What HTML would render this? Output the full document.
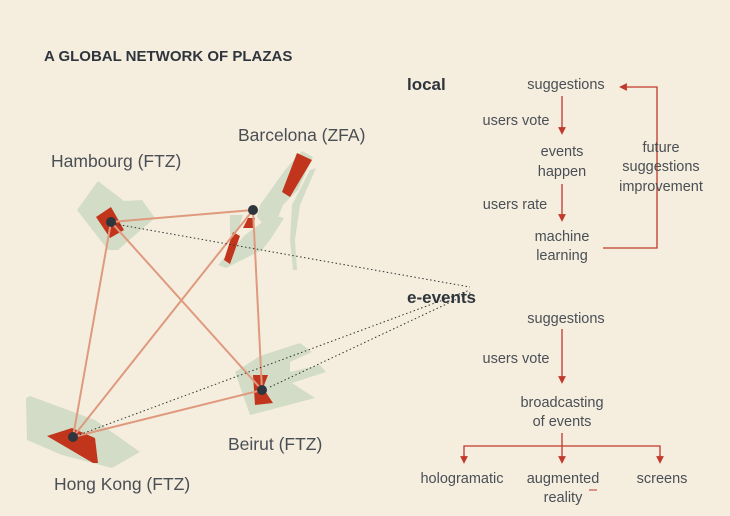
<!DOCTYPE html>
<html><head><meta charset="utf-8"><style>
html,body{margin:0;padding:0;background:#f5eedf;}
svg{display:block}
text{font-family:"Liberation Sans",sans-serif;}
.t{font-size:14.5px;fill:#4a4f55;text-anchor:middle}
.b{font-weight:bold;fill:#2f353c}
</style></head><body>
<svg width="730" height="516" viewBox="0 0 730 516" xmlns="http://www.w3.org/2000/svg">
<defs><marker id="a" markerWidth="6" markerHeight="6" refX="3" refY="3" orient="auto"><path d="M0,0L6,3L0,6z" fill="#c0392b"/></marker></defs>
<rect width="730" height="516" fill="#f5eedf"/>
<text x="44" y="61" class="b" style="font-size:15px">A GLOBAL NETWORK OF PLAZAS</text>
<!-- green areas -->
<g fill="#d3dcc6">
<path d="M98,181 L124,201 L142,200 L155,218 L135,235 L118,250 L108,250 L77,210 Z"/>
<path d="M302,151 L313,157 L298,190 L283,205 L277,220 L265,226 L257,217 L260,205 L285,170 Z"/>
<path d="M230,215 L243,215 L238,230 L230,236 Z"/>
<path d="M272,215 L284,218 L270,240 L262,250 L226,268 L218,265 L245,235 Z"/>
<path d="M310,170 L316,168 L300,205 L295,240 L297,270 L293,270 L290,240 L292,205 Z"/>
<path d="M235,372 L260,356 L300,343 L312,352 L290,362 L290,372 L320,365 L326,372 L292,383 L315,398 L250,415 L243,395 Z"/>
<path d="M26,398 L30,396 L95,420 L140,452 L112,468 L62,455 L27,440 Z"/>
</g>
<!-- red shapes -->
<g fill="#c2351d">
<path d="M96,217 L111,207 L124,230 L110,238 Z"/>
<path d="M297,153 L312,160 L290,197 L282,192 Z"/>
<path d="M248,218 L255,218 L253,228 L243,228 Z"/>
<path d="M233,232 L240,236 L230,264 L224,260 Z"/>
<path d="M253,375 L268,375 L263,388 L273,403 L255,405 Z"/>
<path d="M47,436 L72,428 L95,438 L98,463 L93,463 Z"/>
</g>
<!-- solid connectors -->
<g stroke="#df9a7e" stroke-width="2" fill="none">
<line x1="111" y1="222" x2="253" y2="210"/>
<line x1="111" y1="222" x2="73" y2="437"/>
<line x1="111" y1="222" x2="262" y2="390"/>
<line x1="253" y1="210" x2="73" y2="437"/>
<line x1="253" y1="210" x2="262" y2="390"/>
<line x1="262" y1="390" x2="73" y2="437"/>
</g>
<!-- dotted -->
<g stroke="#333" stroke-width="1" stroke-dasharray="1.5,2.5" fill="none">
<line x1="115" y1="224" x2="470" y2="287"/>
<line x1="76" y1="436" x2="470" y2="290"/>
<line x1="270" y1="387" x2="472" y2="292"/>
</g>
<g fill="#2f353c">
<circle cx="111" cy="222" r="5"/><circle cx="253" cy="210" r="5"/>
<circle cx="262" cy="390" r="5"/><circle cx="73" cy="437" r="5"/>
</g>
<g style="font-size:17.5px;fill:#4a4f55">
<text x="51" y="167">Hambourg (FTZ)</text>
<text x="238" y="141">Barcelona (ZFA)</text>
<text x="228" y="450">Beirut (FTZ)</text>
<text x="54" y="490">Hong Kong (FTZ)</text>
</g>
<text x="407" y="90" class="b" style="font-size:17px">local</text>
<text x="407" y="303" class="b" style="font-size:17px">e-events</text>
<g stroke="#c0392b" stroke-width="1.3" fill="none">
<line x1="562" y1="96" x2="562" y2="131" marker-end="url(#a)"/>
<line x1="562" y1="184" x2="562" y2="218" marker-end="url(#a)"/>
<polyline points="603,248 657,248 657,87 623,87" marker-end="url(#a)"/>
<line x1="562" y1="329" x2="562" y2="380" marker-end="url(#a)"/>
<line x1="562" y1="433" x2="562" y2="460" marker-end="url(#a)"/>
<polyline points="464,460 464,446 660,446 660,460"/>
<line x1="464" y1="455" x2="464" y2="460" marker-end="url(#a)"/>
<line x1="660" y1="455" x2="660" y2="460" marker-end="url(#a)"/>
<line x1="589" y1="490" x2="597" y2="490" stroke-width="1"/>
</g>
<g class="t">
<text x="566" y="89" class="t">suggestions</text>
<text x="516" y="125" class="t">users vote</text>
<text x="562" y="156" class="t">events</text>
<text x="562" y="176" class="t">happen</text>
<text x="515" y="209" class="t">users rate</text>
<text x="562" y="241" class="t">machine</text>
<text x="562" y="260" class="t">learning</text>
<text x="661" y="152" class="t">future</text>
<text x="661" y="171" class="t">suggestions</text>
<text x="661" y="191" class="t">improvement</text>
<text x="566" y="323" class="t">suggestions</text>
<text x="516" y="363" class="t">users vote</text>
<text x="562" y="407" class="t">broadcasting</text>
<text x="562" y="426" class="t">of events</text>
<text x="462" y="483" class="t">hologramatic</text>
<text x="563" y="483" class="t">augmented</text>
<text x="563" y="502" class="t">reality</text>
<text x="662" y="483" class="t">screens</text>
</g>
</svg>
</body></html>
